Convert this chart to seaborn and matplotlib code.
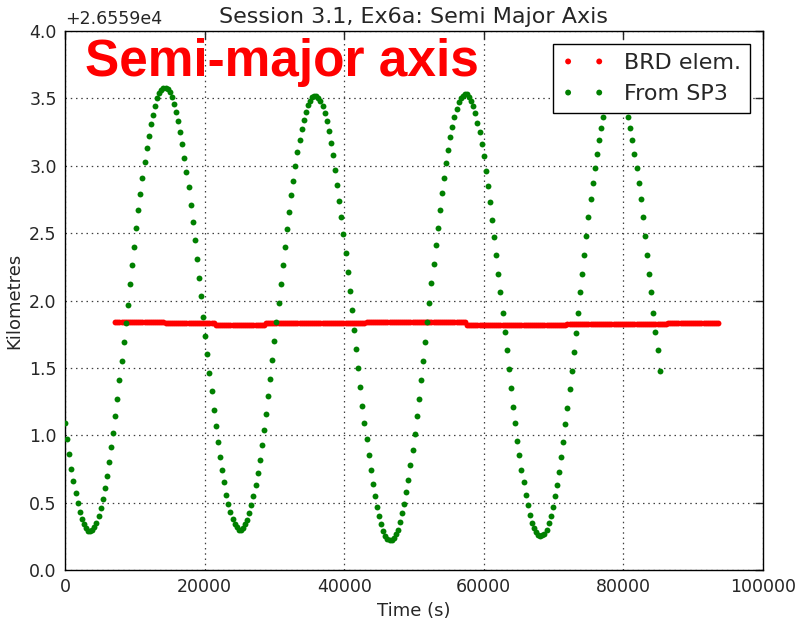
import numpy as np
import pandas as pd
import matplotlib
matplotlib.use("Agg")
import matplotlib.pyplot as plt
import seaborn as sns

sns.set_style("white")
plt.rcParams['font.family'] = ['DejaVu Sans']

# ---- data (km, relative to 2.6559e4 km) ----
sp3_step = 300  # s between SP3 epochs
sp3_km = [
    1.09, 0.97, 0.86, 0.75, 0.66, 0.57, 0.50, 0.43, 0.38, 0.34, 0.31, 0.29,
    0.29, 0.30, 0.32, 0.35, 0.40, 0.46, 0.53, 0.61, 0.70, 0.80, 0.91, 1.02,
    1.14, 1.27, 1.41, 1.55, 1.69, 1.83, 1.97, 2.12, 2.26, 2.40, 2.54, 2.67,
    2.79, 2.91, 3.03, 3.13, 3.22, 3.31, 3.38, 3.44, 3.50, 3.54, 3.56, 3.58,
    3.58, 3.57, 3.55, 3.51, 3.46, 3.40, 3.33, 3.25, 3.16, 3.06, 2.95, 2.84,
    2.71, 2.58, 2.45, 2.31, 2.17, 2.03, 1.88, 1.74, 1.60, 1.46, 1.33, 1.19,
    1.07, 0.95, 0.84, 0.74, 0.65, 0.56, 0.49, 0.43, 0.38, 0.34, 0.32, 0.30,
    0.30, 0.31, 0.34, 0.37, 0.42, 0.48, 0.55, 0.63, 0.72, 0.82, 0.93, 1.04,
    1.16, 1.29, 1.42, 1.56, 1.70, 1.84, 1.98, 2.12, 2.26, 2.40, 2.53, 2.66,
    2.78, 2.89, 3.00, 3.10, 3.19, 3.27, 3.34, 3.40, 3.45, 3.48, 3.51, 3.52,
    3.52, 3.50, 3.48, 3.44, 3.39, 3.33, 3.26, 3.17, 3.08, 2.97, 2.86, 2.74,
    2.62, 2.49, 2.35, 2.21, 2.07, 1.93, 1.78, 1.64, 1.50, 1.36, 1.22, 1.09,
    0.97, 0.85, 0.74, 0.64, 0.55, 0.47, 0.40, 0.34, 0.29, 0.25, 0.23, 0.22,
    0.22, 0.24, 0.27, 0.30, 0.36, 0.42, 0.49, 0.58, 0.67, 0.78, 0.89, 1.01,
    1.14, 1.27, 1.41, 1.55, 1.69, 1.84, 1.98, 2.13, 2.27, 2.41, 2.54, 2.67,
    2.80, 2.91, 3.02, 3.12, 3.21, 3.29, 3.36, 3.42, 3.47, 3.50, 3.52, 3.53,
    3.53, 3.51, 3.48, 3.44, 3.39, 3.32, 3.25, 3.16, 3.07, 2.96, 2.85, 2.73,
    2.60, 2.47, 2.34, 2.20, 2.06, 1.91, 1.77, 1.63, 1.49, 1.35, 1.21, 1.09,
    0.96, 0.85, 0.74, 0.65, 0.56, 0.48, 0.41, 0.35, 0.31, 0.28, 0.26, 0.25,
    0.26, 0.27, 0.30, 0.35, 0.40, 0.47, 0.55, 0.63, 0.73, 0.84, 0.95, 1.08,
    1.20, 1.34, 1.48, 1.62, 1.76, 1.91, 2.06, 2.20, 2.34, 2.48, 2.62, 2.75,
    2.87, 2.98, 3.09, 3.19, 3.28, 3.36, 3.42, 3.48, 3.52, 3.56, 3.57, 3.58,
    3.57, 3.55, 3.52, 3.48, 3.42, 3.36, 3.28, 3.19, 3.09, 2.98, 2.87, 2.75,
    2.62, 2.48, 2.34, 2.20, 2.06, 1.91, 1.77, 1.63, 1.48,
]

# broadcast elements: one value per ephemeris block
brd_edges = [7200, 14400, 21600, 28800, 43200, 57600, 72000, 86400]
brd_km = [1.843, 1.831, 1.822, 1.831, 1.838, 1.821, 1.828, 1.836]
brd_end = 93600
brd_step = 300

sp3 = pd.DataFrame({"t": np.arange(len(sp3_km)) * sp3_step, "a": sp3_km})
t_brd = np.arange(brd_edges[0], brd_end + 1, brd_step)
blk = np.searchsorted(brd_edges, t_brd, side="right") - 1
brd = pd.DataFrame({"t": t_brd, "a": np.array(brd_km)[blk]})

# ---- plot ----
fig = plt.figure(figsize=(7.97, 6.2), dpi=100)
ax = fig.add_axes([0.0816, 0.0806, 0.8756, 0.8694])

sns.scatterplot(data=brd, x="t", y="a", color="red", s=18, linewidth=0,
                label="BRD elem.", ax=ax, zorder=3)
sns.scatterplot(data=sp3, x="t", y="a", color="green", s=18, linewidth=0,
                label="From SP3", ax=ax, zorder=3)

ax.set_xlim(0, 100000)
ax.set_ylim(0, 4)
ax.set_xticks(range(0, 100001, 20000))
yt = np.arange(0, 4.01, 0.5)
ax.set_yticks(yt)
ax.set_yticklabels([f"{v:.1f}" for v in yt])
ax.grid(True, color="0.25", linestyle=(0, (1.2, 3)), linewidth=0.9)
ax.tick_params(direction="in", length=6, width=1, top=True, right=True,
               labelsize=12.5, pad=6)
for sp in ax.spines.values():
    sp.set_color("black")
    sp.set_linewidth(1)

ax.set_xlabel("Time (s)", fontsize=13)
ax.set_ylabel("Kilometres", fontsize=13)
ax.set_title("Session 3.1, Ex6a: Semi Major Axis", fontsize=16, pad=6)
ax.text(0, 1.005, "+2.6559e4", transform=ax.transAxes, fontsize=12.5,
        va="bottom", ha="left")
ax.text(0.029, 0.9165, "Semi-major axis", transform=ax.transAxes,
        color="red", fontsize=37, fontweight="bold",
        family="Liberation Sans", va="baseline", zorder=5)

leg = ax.legend(loc="upper right", fontsize=16, scatterpoints=2,
                scatteryoffsets=[0.5], fancybox=False, frameon=True,
                edgecolor="black", framealpha=1, borderaxespad=0.6)
leg.get_frame().set_linewidth(1)

fig.savefig("out.png", dpi=100)
